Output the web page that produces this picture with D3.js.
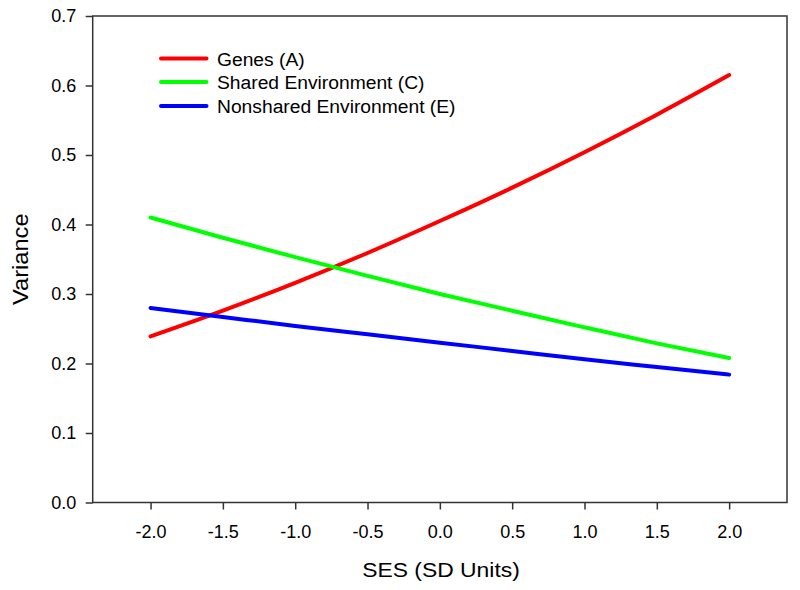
<!DOCTYPE html>
<html>
<head>
<meta charset="utf-8">
<script src="https://cdn.jsdelivr.net/npm/d3@7"></script>
<style>
  html, body { margin: 0; padding: 0; background: #fff; }
  svg { display: block; font-family: "Liberation Sans", Arial, sans-serif; }
</style>
</head>
<body>
<svg id="chart" width="800" height="590"></svg>
<script>
const ses = [-2.0, -1.5, -1.0, -0.5, 0.0, 0.5, 1.0, 1.5, 2.0];
const genesA = [0.239, 0.276, 0.316, 0.359, 0.405, 0.453, 0.504, 0.558, 0.615];
const sharedC = [0.410, 0.381, 0.353, 0.326, 0.300, 0.276, 0.252, 0.229, 0.208];
const nonsharedE = [0.280, 0.267, 0.254, 0.242, 0.230, 0.218, 0.206, 0.195, 0.184];
const seriesNames = ["Genes (A)", "Shared Environment (C)", "Nonshared Environment (E)"];
const seriesColors = ["#ff0000", "#00ff00", "#0000ff"];
const xTicks = [-2.0, -1.5, -1.0, -0.5, 0.0, 0.5, 1.0, 1.5, 2.0];
const yTicks = [0.0, 0.1, 0.2, 0.3, 0.4, 0.5, 0.6, 0.7];

const svg = d3.select("#chart");
const pLeft = 92.7, pRight = 787, pTop = 16, pBottom = 502.5;

const x = d3.scaleLinear().domain([-2.4, 2.4]).range([pLeft, pRight]);
const y = d3.scaleLinear().domain([0, 0.7]).range([pBottom, pTop]);

const seriesData = [genesA, sharedC, nonsharedE];
const fmt = d => d.toFixed(1);

// Lines
const line = d3.line()
  .x((d, i) => x(ses[i]))
  .y(d => y(d))
  .curve(d3.curveMonotoneX);

seriesData.forEach((vals, k) => {
  svg.append("path")
    .attr("d", line(vals))
    .attr("fill", "none")
    .attr("stroke", seriesColors[k])
    .attr("stroke-width", 4)
    .attr("stroke-linecap", "round");
});

// Frame
svg.append("rect")
  .attr("x", pLeft).attr("y", pTop)
  .attr("width", pRight - pLeft).attr("height", pBottom - pTop)
  .attr("fill", "none").attr("stroke", "#333").attr("stroke-width", 1.5);

// Axes
const xAxis = d3.axisBottom(x).tickValues(xTicks).tickFormat(fmt).tickSizeOuter(0).tickSize(7).tickPadding(16);
const gx = svg.append("g").attr("transform", `translate(0,${pBottom})`).call(xAxis);
gx.select(".domain").remove();
gx.selectAll(".tick line").attr("stroke", "#333").attr("stroke-width", 1.5);
gx.selectAll(".tick text").attr("font-size", 18).attr("fill", "#000").attr("font-family", "Liberation Sans, Arial, sans-serif");

const yAxis = d3.axisLeft(y).tickValues(yTicks).tickFormat(fmt).tickSizeOuter(0).tickSize(7).tickPadding(9.5);
const gy = svg.append("g").attr("transform", `translate(${pLeft},0)`).call(yAxis);
gy.select(".domain").remove();
gy.selectAll(".tick line").attr("stroke", "#333").attr("stroke-width", 1.5);
gy.selectAll(".tick text").attr("font-size", 18).attr("fill", "#000").attr("font-family", "Liberation Sans, Arial, sans-serif");

// Axis titles
svg.append("text")
  .attr("transform", "translate(441,577) scale(1.09,1)")
  .attr("text-anchor", "middle")
  .attr("font-size", 21)
  .text("SES (SD Units)");

svg.append("text")
  .attr("transform", `translate(28,${(pTop + pBottom) / 2}) rotate(-90) scale(1.1,1)`)
  .attr("text-anchor", "middle")
  .attr("font-size", 21.5)
  .text("Variance");

// Legend
const legendY = [58.5, 82, 106];
seriesNames.forEach((name, k) => {
  svg.append("line")
    .attr("x1", 161).attr("x2", 206.5)
    .attr("y1", legendY[k]).attr("y2", legendY[k])
    .attr("stroke", seriesColors[k]).attr("stroke-width", 4)
    .attr("stroke-linecap", "round");
  svg.append("text")
    .attr("transform", `translate(217,${legendY[k] + 7}) scale(1.07,1)`)
    .attr("font-size", 18)
    .text(name);
});
</script>
</body>
</html>
